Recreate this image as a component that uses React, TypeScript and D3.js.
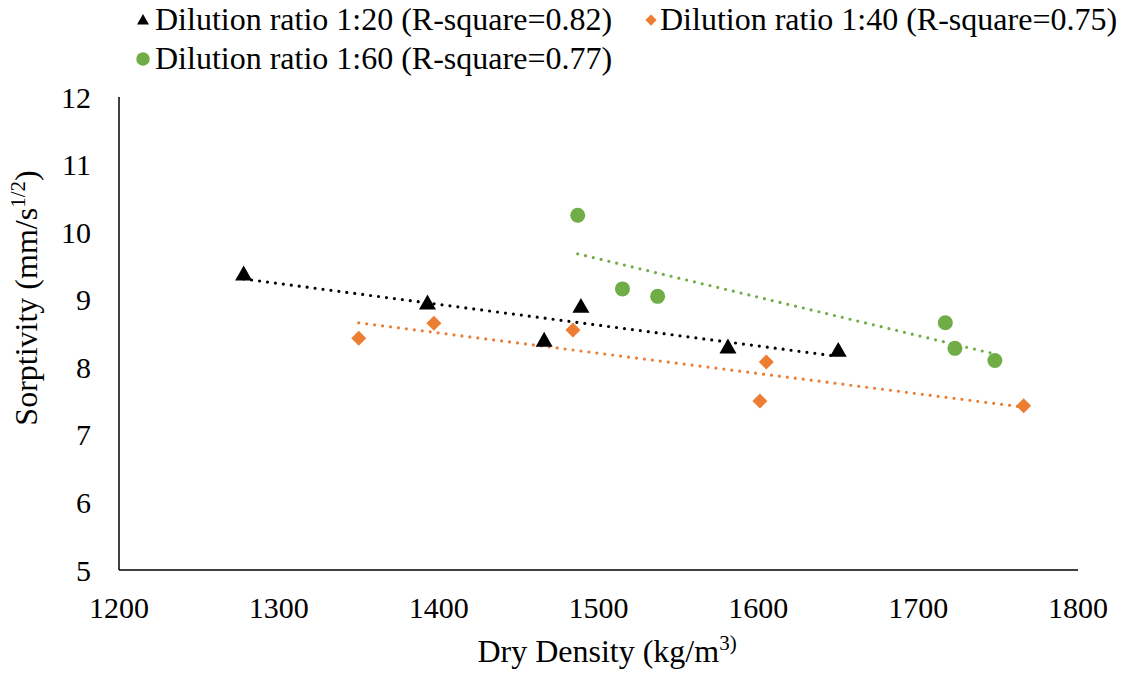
import React from "react";
import * as d3 from "d3";

const xTicks = [1200, 1300, 1400, 1500, 1600, 1700, 1800];
const yTicks = [5, 6, 7, 8, 9, 10, 11, 12];

const d20x = [1278, 1393, 1466, 1489, 1581, 1650];
const d20y = [9.38, 8.95, 8.4, 8.9, 8.3, 8.25];
const d40x = [1350, 1397, 1484, 1605, 1601, 1766];
const d40y = [8.43, 8.65, 8.55, 8.08, 7.5, 7.43];
const d60x = [1487, 1515, 1537, 1717, 1723, 1748];
const d60y = [10.25, 9.16, 9.05, 8.66, 8.28, 8.1];

const seriesNames = [
  "Dilution ratio 1:20 (R-square=0.82)",
  "Dilution ratio 1:40 (R-square=0.75)",
  "Dilution ratio 1:60 (R-square=0.77)",
];
const colors = ["#000000", "#ED7D31", "#70AD47"];

function fit(xs: number[], ys: number[]) {
  const mx = d3.mean(xs)!;
  const my = d3.mean(ys)!;
  let num = 0, den = 0;
  xs.forEach((x, i) => { num += (x - mx) * (ys[i] - my); den += (x - mx) ** 2; });
  const b = num / den;
  const a = my - b * mx;
  const [x0, x1] = d3.extent(xs) as [number, number];
  return [[x0, a + b * x0], [x1, a + b * x1]];
}

const FONT = "'Liberation Serif', 'Times New Roman', serif";

export default function App() {
  const x = d3.scaleLinear().domain([1200, 1800]).range([119, 1078]);
  const y = d3.scaleLinear().domain([5, 12]).range([570, 97]);
  const series = [
    { xs: d20x, ys: d20y },
    { xs: d40x, ys: d40y },
    { xs: d60x, ys: d60y },
  ];
  const line = d3.line<number[]>().x((d) => x(d[0])).y((d) => y(d[1]));

  const marker = (k: number, cx: number, cy: number, key?: any, scale = 1) => {
    if (k === 0) {
      const s = 8.5 * scale;
      return <path key={key} d={`M${cx},${cy - s} L${cx + s},${cy + s * 0.75} L${cx - s},${cy + s * 0.75} Z`} fill={colors[0]} />;
    }
    if (k === 1) {
      const s = 7.5 * scale;
      return <path key={key} d={`M${cx},${cy - s} L${cx + s},${cy} L${cx},${cy + s} L${cx - s},${cy} Z`} fill={colors[1]} />;
    }
    return <circle key={key} cx={cx} cy={cy} r={7.5 * scale} fill={colors[2]} />;
  };

  return (
    <svg width={1125} height={675} style={{ position: "absolute", left: 0, top: 0, background: "#fff" }}>
      <rect width={1125} height={675} fill="#fff" />
      {/* axes */}
      <line x1={119} y1={97} x2={119} y2={570} stroke="#000" strokeWidth={1.5} />
      <line x1={119} y1={570} x2={1078} y2={570} stroke="#000" strokeWidth={1.5} />
      {yTicks.map((t) => (
        <text key={t} x={91} y={y(t) + 10.5} textAnchor="end" fontFamily={FONT} fontSize={30}>{t}</text>
      ))}
      {xTicks.map((t) => (
        <text key={t} x={x(t)} y={618} textAnchor="middle" fontFamily={FONT} fontSize={30}>{t}</text>
      ))}
      <text x={607} y={662} textAnchor="middle" fontFamily={FONT} fontSize={32}>
        Dry Density (kg/m<tspan dy={-12} fontSize={21}>3)</tspan>
      </text>
      <text transform="translate(37,298) rotate(-90)" textAnchor="middle" fontFamily={FONT} fontSize={32}>
        Sorptivity (mm/s<tspan dy={-12} fontSize={21}>1/2</tspan><tspan dy={12}>)</tspan>
      </text>
      {/* trendlines */}
      {series.map((s, k) => (
        <path key={"t" + k} d={line(fit(s.xs, s.ys))!} fill="none" stroke={colors[k]} strokeWidth={3.2} strokeDasharray="0 8" strokeLinecap="round" />
      ))}
      {/* markers */}
      {series.map((s, k) => s.xs.map((xv, i) => marker(k, x(xv), y(s.ys[i]), k + "-" + i)))}
      {/* legend */}
      {marker(0, 143, 20, "l0", 0.7)}
      <text x={155} y={30} fontFamily={FONT} fontSize={32}>{seriesNames[0]}</text>
      {marker(1, 651, 20, "l1", 0.75)}
      <text x={660} y={30} fontFamily={FONT} fontSize={32}>{seriesNames[1]}</text>
      {marker(2, 143, 59, "l2", 0.9)}
      <text x={155} y={69} fontFamily={FONT} fontSize={32}>{seriesNames[2]}</text>
    </svg>
  );
}
